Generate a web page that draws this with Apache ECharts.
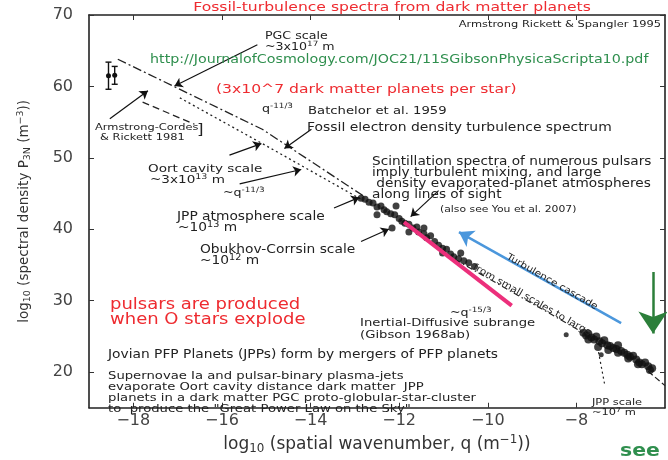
<!DOCTYPE html>
<html><head><meta charset="utf-8">
<script src="https://cdn.jsdelivr.net/npm/echarts@6/dist/echarts.min.js"></script>
<style>html,body{margin:0;padding:0;background:#fff}#c{width:668px;height:460px}</style>
</head><body><div id="c"></div>
<script>
// ---- data (log10 q, log10 P3N) ----
const xTicks = [-18, -16, -14, -12, -10, -8];
const yTicks = [20, 30, 40, 50, 60, 70];
const armstrongLine = [[-18.35, 63.8], [-15.09, 54.0], [-12.79, 44.6]];
const dottedLine = [[-16.95, 58.4], [-15.09, 52.0], [-12.86, 44.2]];
const inertialLine = [[-11.0, 36.7], [-7.84, 25.5]];
const tailLine = [[-6.38, 20.1], [-6.0, 18.1]];
const cordesLine = [[-17.79, 57.8], [-16.62, 54.7]];
const jppLeader = [[-7.5, 22.8], [-7.36, 18.2]];
const pinkFit = [[-11.89, 41.0], [-9.46, 29.3]];
const cascadeArrow = [[-6.99, 26.85], [-10.65, 39.6]];
const seeArrow = [[-6.27, 34.0], [-6.27, 25.4]];
const cluster1 = [[-12.86,44.33],[-12.77,44.19],[-12.68,43.79],[-12.59,43.66],[-12.50,43.12],[-12.41,43.25],[-12.34,42.72],[-12.28,42.45],[-12.19,42.18],[-12.10,42.04],[-12.00,41.51],[-11.94,41.10],[-11.87,40.83],[-11.78,40.70],[-11.69,40.16],[-11.60,40.30],[-11.56,39.62],[-11.44,39.35],[-11.38,38.82],[-11.29,39.09],[-11.20,38.28],[-11.11,37.74],[-11.02,37.34],[-10.93,37.20],[-10.84,36.53],[-10.77,36.13],[-10.66,35.86],[-10.54,35.59],[-10.43,35.32],[-10.30,34.78],[-12.50,42.04],[-12.16,40.16],[-11.78,39.62],[-12.07,43.25],[-11.44,40.16],[-11.02,36.67],[-10.61,36.67]];
const cluster2 = [[-7.84,25.51],[-7.78,25.11],[-7.73,25.38],[-7.66,24.84],[-7.60,24.57],[-7.55,24.97],[-7.48,24.30],[-7.42,24.03],[-7.37,24.44],[-7.30,23.76],[-7.24,23.63],[-7.17,23.36],[-7.10,23.23],[-7.06,23.76],[-6.99,22.96],[-6.92,22.69],[-6.85,22.42],[-6.79,22.15],[-6.72,22.28],[-6.65,21.75],[-6.58,21.34],[-6.52,21.08],[-6.45,21.34],[-6.38,20.81],[-6.34,20.27],[-6.29,20.54],[-7.73,24.57],[-7.51,23.49],[-7.28,23.09],[-7.06,22.69],[-6.83,21.88],[-6.61,21.08]];
const isolated = [[-7.44, 22.42], [-8.23, 25.24]];
const errBars = [[-18.56, 59.6, 63.4], [-18.42, 60.3, 62.8]];
const pointerFrom = [[-15.20,65.83],[-18.53,55.48],[-15.83,50.38],[-13.98,54.0],[-15.60,46.34],[-13.47,42.98],[-12.86,38.28],[-11.11,45.40]];
const pointerTo   = [[-17.07,60.05],[-17.67,59.38],[-15.11,51.99],[-14.59,51.32],[-14.21,48.36],[-12.90,44.46],[-12.23,40.03],[-11.74,41.77]];

const FF = '"DejaVu Sans", sans-serif';
const RED = '#ee2b30', GREEN = '#2f8f4e', INK = '#222';
const SX = 1.2;
function rich(fs, color) {
  return {
    sup: {fontSize: fs * 0.7, fontFamily: FF, fill: color, padding: [0, 0, fs * 0.6, 0]},
    sub: {fontSize: fs * 0.7, fontFamily: FF, fill: color, padding: [fs * 0.5, 0, 0, 0]},
    n: {fontSize: fs, fontFamily: FF, fill: color}
  };
}
function T(text, x, y, o) {
  o = o || {};
  const fs = o.fs || 11.3, color = o.color || INK;
  return {type: 'text', x: x, y: y, scaleX: o.sx || SX, rotation: o.rot || 0, z: 100,
    style: {text: text, fill: color, font: (o.bold ? 'bold ' : '') + fs + 'px ' + FF,
      align: o.align || 'left', verticalAlign: 'middle', rich: rich(fs, color)}};
}
const texts = [
  T('Fossil-turbulence spectra from dark matter planets', 392, 8, {fs: 13, color: RED, align: 'center'}),
  T('Armstrong Rickett & Spangler 1995', 661, 25, {fs: 9.5, align: 'right'}),
  T('PGC scale', 265, 36, {fs: 10.5}),
  T('{n|~3x10}{sup|17}{n| m}', 265, 47, {fs: 10.5}),
  T('http://JournalofCosmology.com/JOC21/11SGibsonPhysicaScripta10.pdf', 150, 60, {fs: 11.9, color: GREEN}),
  T('(3x10^7 dark matter planets per star)', 216, 90, {fs: 13, color: RED}),
  T('{n|q}{sup|-11/3}', 262, 109, {fs: 10.5}),
  T('Batchelor et al. 1959', 308, 111, {fs: 11}),
  T('Fossil electron density turbulence spectrum', 307, 128, {fs: 11.6}),
  T('Armstrong-Cordes', 95, 128, {fs: 9.5}),
  T('& Rickett 1981', 100, 138, {fs: 9.5}),
  T(']', 197, 130, {fs: 14}),
  T('Oort cavity scale', 148, 169),
  T('{n|~3x10}{sup|13}{n| m}', 150, 180),
  T('{n|~q}{sup|-11/3}', 223, 193, {fs: 10.5}),
  T('JPP atmosphere scale', 177, 217, {fs: 11.5}),
  T('{n|~10}{sup|13}{n| m}', 178, 228, {fs: 11.5}),
  T('Obukhov-Corrsin scale', 200, 250, {fs: 11.5}),
  T('{n|~10}{sup|12}{n| m}', 200, 261, {fs: 11.5}),
  T('Scintillation spectra of numerous pulsars', 372, 162, {fs: 11.4}),
  T('imply turbulent mixing, and large', 372, 173, {fs: 11.4}),
  T(' density evaporated-planet atmospheres', 372, 184, {fs: 11.4}),
  T('along lines of sight', 372, 195, {fs: 11.4}),
  T('(also see You et al. 2007)', 440, 210, {fs: 9}),
  T('{n|~q}{sup|-15/3}', 450, 313, {fs: 10.5}),
  T('Inertial-Diffusive subrange', 360, 323, {fs: 11}),
  T('(Gibson 1968ab)', 360, 335, {fs: 11}),
  T('pulsars are produced', 110, 305, {fs: 15, color: RED}),
  T('when O stars explode', 110, 320, {fs: 15, color: RED}),
  T('Jovian PFP Planets (JPPs) form by mergers of PFP planets', 108, 355, {fs: 11.5}),
  T('Supernovae Ia and pulsar-binary plasma-jets', 108, 376, {fs: 11}),
  T('evaporate Oort cavity distance dark matter  JPP', 108, 387, {fs: 11}),
  T('planets in a dark matter PGC proto-globular-star-cluster', 108, 398, {fs: 11}),
  T('to  produce the "Great Power Law on the Sky"', 108, 409, {fs: 11}),
  T('JPP scale', 592, 403, {fs: 9.5}),
  T('{n|~10}{sup|7}{n| m}', 592, 413, {fs: 9.5}),
  T('Turbulence cascade', 552, 282, {fs: 9.5, align: 'center', rot: -0.52, sx: 1.1}),
  T('from small scales to large', 532, 300, {fs: 9.5, align: 'center', rot: -0.52, sx: 1.1}),
  T('see', 620, 452, {fs: 17, color: GREEN, bold: true})
];

const chart = echarts.init(document.getElementById('c'), null, {renderer: 'canvas'});
const lineSeg = (data, type, width, color) => ({type: 'line', data: data, showSymbol: false, symbol: 'none', silent: true,
  lineStyle: {type: type, width: width, color: color}, z: 3});
const fmt = v => String(v).replace('-', '\u2212');
const axisCommon = {axisLine: {show: true, lineStyle: {color: '#222', width: 1.6}}, splitLine: {show: false}};
chart.setOption({
  animation: false,
  backgroundColor: '#fff',
  grid: {left: 89, right: 3, top: 15, bottom: 37},
  xAxis: [
    Object.assign({type: 'value', min: -19, max: -6, position: 'bottom',
      axisTick: {inside: true, length: 5, customValues: xTicks, lineStyle: {color: '#333'}},
      axisLabel: {customValues: xTicks, formatter: fmt, fontSize: 16, color: '#444', fontFamily: FF, margin: 5},
      name: '{n|log}{sub|10}{n| (spatial wavenumber, q (m}{sup|\u22121}{n|))}', nameLocation: 'middle', nameGap: 15,
      nameTextStyle: {fontSize: 17, color: '#333', fontFamily: FF, verticalAlign: 'top', rich: rich(17, '#333')}}, axisCommon),
    Object.assign({type: 'value', min: -19, max: -6, position: 'top',
      axisTick: {inside: true, length: 5, customValues: xTicks, lineStyle: {color: '#333'}},
      axisLabel: {show: false}}, axisCommon)
  ],
  yAxis: [
    Object.assign({type: 'value', min: 15, max: 70, position: 'left',
      axisTick: {inside: true, length: 5, customValues: yTicks, lineStyle: {color: '#333'}},
      axisLabel: {customValues: yTicks, fontSize: 16, color: '#444', fontFamily: FF, margin: 16},
      name: '{n|log}{sub|10}{n| (spectral density P}{sub|3N}{n| (m}{sup|\u22123}{n|))}', nameLocation: 'middle', nameGap: 56,
      nameTextStyle: {fontSize: 13.5, color: '#333', fontFamily: FF, rich: rich(13.5, '#333')}}, axisCommon),
    Object.assign({type: 'value', min: 15, max: 70, position: 'right',
      axisTick: {inside: true, length: 5, customValues: yTicks, lineStyle: {color: '#333'}},
      axisLabel: {show: false}}, axisCommon)
  ],
  series: [
    lineSeg(armstrongLine, [9, 3, 2, 3], 1.3, INK),
    lineSeg(dottedLine, [2, 3], 1.3, INK),
    lineSeg(inertialLine, [6, 3, 1.5, 3], 1.2, INK),
    lineSeg(tailLine, [6, 3], 1.2, INK),
    lineSeg(cordesLine, [7, 4], 1.3, INK),
    lineSeg(jppLeader, [2, 3], 1.2, INK),
    {type: 'scatter', data: cluster1, symbolSize: 7, itemStyle: {color: '#111'}, z: 4, silent: true},
    {type: 'scatter', data: cluster2, symbolSize: 8, itemStyle: {color: '#111'}, z: 4, silent: true},
    {type: 'scatter', data: isolated, symbolSize: 5, itemStyle: {color: '#111'}, z: 4, silent: true},
    Object.assign(lineSeg(pinkFit, 'solid', 4, '#ec2f7b'), {z: 5}),
    {type: 'custom', data: errBars, silent: true, z: 5,
      renderItem: function (params, api) {
        const x = api.value(0), p1 = api.coord([x, api.value(1)]), p2 = api.coord([x, api.value(2)]);
        const st = {stroke: '#111', lineWidth: 1.4};
        return {type: 'group', children: [
          {type: 'line', shape: {x1: p1[0], y1: p1[1], x2: p2[0], y2: p2[1]}, style: st},
          {type: 'line', shape: {x1: p1[0] - 3, y1: p1[1], x2: p1[0] + 3, y2: p1[1]}, style: st},
          {type: 'line', shape: {x1: p2[0] - 3, y1: p2[1], x2: p2[0] + 3, y2: p2[1]}, style: st},
          {type: 'circle', shape: {cx: p1[0], cy: (p1[1] + p2[1]) / 2, r: 2.5}, style: {fill: '#111'}}
        ]};
      }},
    {type: 'lines', coordinateSystem: 'cartesian2d', silent: true, z: 6,
      data: pointerFrom.map((f, i) => ({coords: [f, pointerTo[i]]})),
      symbol: ['none', 'arrow'], symbolSize: 8, lineStyle: {color: '#111', width: 1.2, opacity: 1}},
    {type: 'lines', coordinateSystem: 'cartesian2d', silent: true, z: 6,
      data: [{coords: cascadeArrow}], symbol: ['none', 'arrow'], symbolSize: 14,
      lineStyle: {color: '#4b97dc', width: 2.5, opacity: 1}},
    {type: 'lines', coordinateSystem: 'cartesian2d', silent: true, z: 6,
      data: [{coords: seeArrow}], symbol: ['none', 'arrow'], symbolSize: 22,
      lineStyle: {color: '#2c7f3a', width: 2.5, opacity: 1}}
  ],
  graphic: texts
});
</script></body></html>
